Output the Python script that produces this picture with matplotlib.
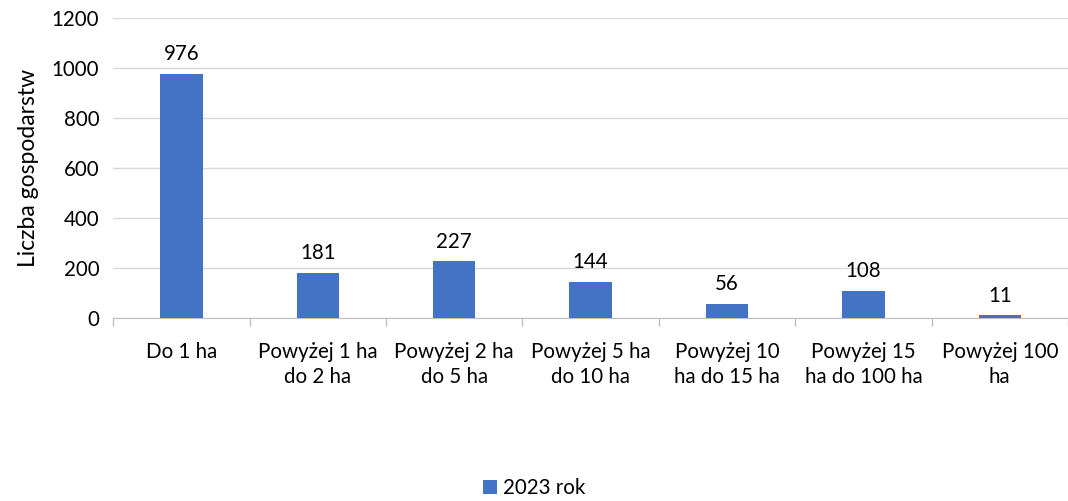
import matplotlib
matplotlib.use("Agg")
import matplotlib.pyplot as plt
from matplotlib.ticker import FixedLocator
import numpy as np

categories = ["Do 1 ha", "Powyżej 1 ha\ndo 2 ha", "Powyżej 2 ha\ndo 5 ha", "Powyżej 5 ha\ndo 10 ha",
              "Powyżej 10\nha do 15 ha", "Powyżej 15\nha do 100 ha", "Powyżej 100\nha"]
values = [976, 181, 227, 144, 56, 108, 11]
series_name = "2023 rok"
y_label = "Liczba gospodarstw"

plt.rcParams['font.family'] = ['Lato', 'DejaVu Sans']
fs = 14.8
fig = plt.figure(figsize=(10.68, 5.01), dpi=100)
ax = fig.add_axes([0.106, 0.365, 0.894, 0.599])

x = np.arange(len(categories))
color = "#4472C4"
bars = ax.bar(x, values, width=0.31, color=color, label=series_name, zorder=3)
for xi, v in zip(x, values):
    ax.annotate(str(v), (xi, v), xytext=(0, 7), textcoords="offset points",
                ha="center", va="bottom", fontsize=fs, color="#000000")

ax.set_xlim(-0.5, len(categories) - 0.5)
ax.set_ylim(0, 1200)
ax.set_yticks(range(0, 1201, 200))
ax.yaxis.grid(True, color="#D9D9D9", linewidth=1, zorder=0)
ax.set_xticks(x)
ax.set_xticklabels(categories, fontsize=fs, linespacing=1.35)
ax.tick_params(axis="x", which="major", length=0, pad=17)
ax.xaxis.set_minor_locator(FixedLocator(np.arange(-0.5, len(categories), 1.0)))
ax.tick_params(axis="x", which="minor", length=6, color="#BFBFBF", width=1)
ax.tick_params(axis="y", length=0, labelsize=fs, pad=10)
for s in ["top", "right", "left"]:
    ax.spines[s].set_visible(False)
ax.spines["bottom"].set_color("#BFBFBF")
ax.set_ylabel(y_label, fontsize=16.5, labelpad=9)

fig.legend(handles=[bars], labels=[series_name], loc="center", bbox_to_anchor=(0.5, 0.026),
           frameon=False, fontsize=fs, handlelength=0.7, handleheight=0.7, handletextpad=0.3)

fig.savefig("out.png", dpi=100)
